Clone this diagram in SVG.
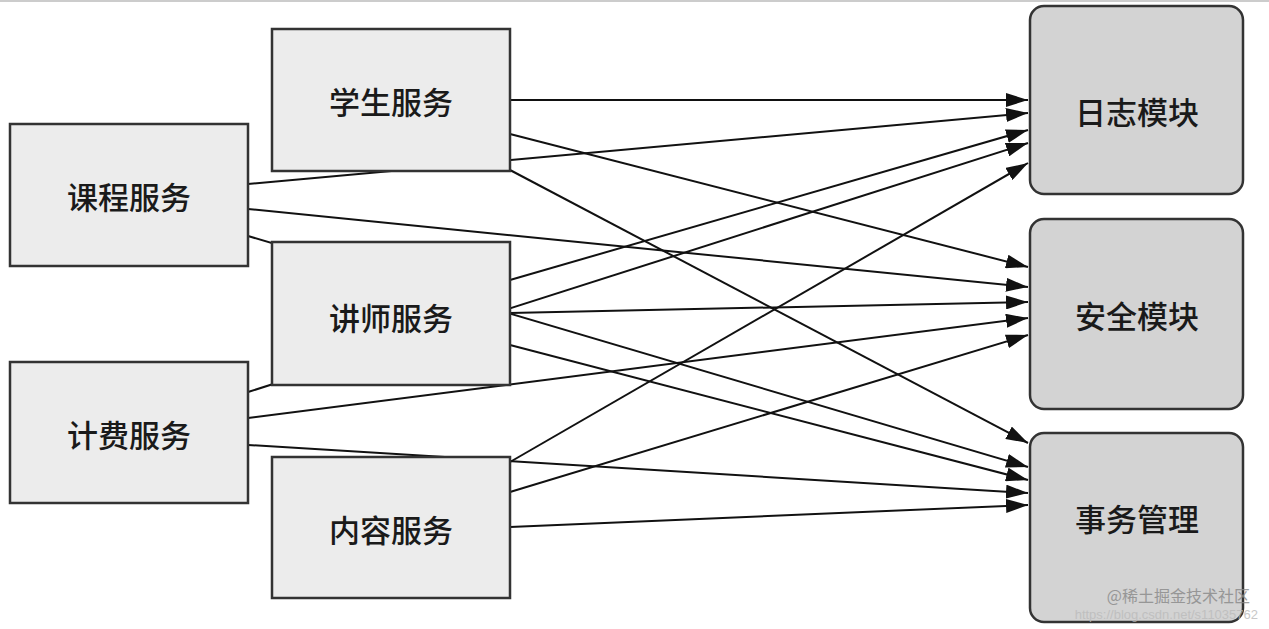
<svg xmlns="http://www.w3.org/2000/svg" width="1269" height="629" viewBox="0 0 1269 629">
<style>
.s{fill:#ececec;stroke:#333;stroke-width:2.5}
.t{fill:#d3d3d3;stroke:#333;stroke-width:2.5}
.l{font-family:"Noto Sans CJK SC",sans-serif;font-size:31px;font-weight:500;fill:#1a1a1a;text-anchor:middle;dominant-baseline:central}
#c line{stroke:#111;stroke-width:2;marker-end:url(#a)}
</style>
<defs><marker id="a" markerUnits="userSpaceOnUse" markerWidth="24" markerHeight="14" refX="22" refY="7" orient="auto"><path d="M0,0L22,7L0,14z" fill="#111"/></marker></defs>
<rect width="1269" height="629" fill="#fff"/>
<line x1="0" y1="1" x2="1269" y2="1" stroke="#999" stroke-width="1"/>
<g id="c">
<line x1="510" y1="100" x2="1028" y2="100"/>
<line x1="510" y1="134" x2="1028" y2="267"/>
<line x1="510" y1="170" x2="1028" y2="443"/>
<line x1="248" y1="184" x2="1028" y2="113"/>
<line x1="248" y1="209" x2="1028" y2="287"/>
<line x1="248" y1="236" x2="1028" y2="467"/>
<line x1="510" y1="280" x2="1028" y2="130"/>
<line x1="510" y1="313" x2="1028" y2="302"/>
<line x1="510" y1="345" x2="1028" y2="480"/>
<line x1="248" y1="392" x2="1028" y2="143"/>
<line x1="248" y1="418" x2="1028" y2="318"/>
<line x1="248" y1="445" x2="1028" y2="493"/>
<line x1="510" y1="462" x2="1028" y2="163"/>
<line x1="510" y1="492" x2="1028" y2="335"/>
<line x1="510" y1="527" x2="1028" y2="505"/>
</g>
<g id="n1"><rect class="s" x="272" y="29" width="238" height="142"/><text class="l" x="391" y="100">学生服务</text></g>
<g id="n2"><rect class="s" x="10" y="124" width="238" height="142"/><text class="l" x="129" y="195">课程服务</text></g>
<g id="n3"><rect class="s" x="272" y="242" width="238" height="143"/><text class="l" x="391" y="316">讲师服务</text></g>
<g id="n4"><rect class="s" x="10" y="362" width="238" height="141"/><text class="l" x="129" y="433">计费服务</text></g>
<g id="n5"><rect class="s" x="272" y="457" width="238" height="141"/><text class="l" x="391" y="528">内容服务</text></g>
<g id="m1"><rect class="t" x="1030" y="6" width="213" height="188" rx="14"/><text class="l" x="1137" y="110">日志模块</text></g>
<g id="m2"><rect class="t" x="1030" y="219" width="213" height="190" rx="14"/><text class="l" x="1137" y="314">安全模块</text></g>
<g id="m3"><rect class="t" x="1030" y="433" width="213" height="189" rx="14"/><text class="l" x="1137" y="517">事务管理</text></g>
<text x="1250" y="602" font-family="'Noto Sans CJK SC',sans-serif" font-size="16" fill="#888" text-anchor="end" opacity="0.8">@稀土掘金技术社区</text>
<text x="1258" y="619" font-family="'Liberation Sans',sans-serif" font-size="13" fill="#bbb" text-anchor="end" opacity="0.8">https://blog.csdn.net/s11035762</text>
</svg>
